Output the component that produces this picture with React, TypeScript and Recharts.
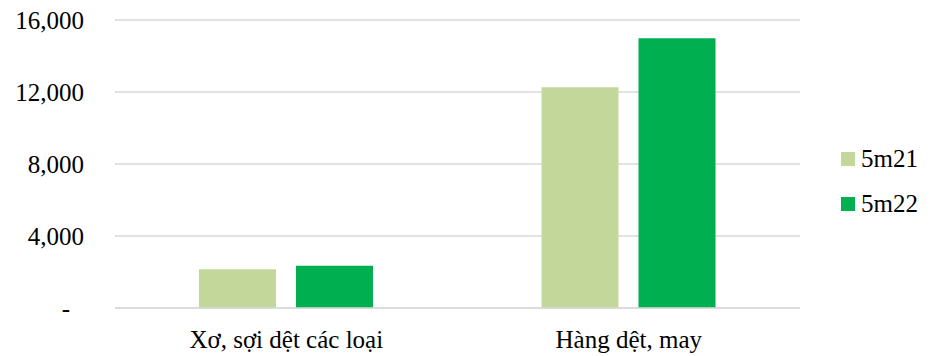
import { BarChart, Bar, XAxis, YAxis, CartesianGrid } from 'recharts'

const categories = ['Xơ, sợi dệt các loại', 'Hàng dệt, may']
const values5m21 = [2150, 12260]
const values5m22 = [2350, 14990]
const yTicks = [0, 4000, 8000, 12000, 16000]

const seriesNames = ['5m21', '5m22']
const colors = ['#C4D79B', '#00B050']

const data = categories.map((name, i) => ({
  name,
  '5m21': values5m21[i],
  '5m22': values5m22[i],
}))

const font = '"Times New Roman", "Liberation Serif", serif'

const YTick = ({ x, y, payload }: any) => {
  const v = payload.value
  return (
    <text x={v === 0 ? x - 14 : x} y={y} dy="0.35em" textAnchor="end" fontSize={25} style={{ fontFamily: font }} fill="#000">
      {v === 0 ? '-' : v.toLocaleString('en-US')}
    </text>
  )
}

const XTick = ({ x, y, payload }: any) => (
  <text x={x} y={y} dy={32} textAnchor="middle" fontSize={25} style={{ fontFamily: font }} fill="#000">
    {payload.value}
  </text>
)

export default function App() {
  return (
    <div style={{ position: 'absolute', left: 0, top: 0, width: 935, height: 356, background: '#fff' }}>
      <BarChart width={935} height={356} data={data} margin={{ top: 20, right: 135, left: 0, bottom: 0 }} barGap={20}>
        <CartesianGrid horizontal vertical={false} stroke="#d9d9d9" strokeWidth={1.5} />
        <XAxis dataKey="name" tick={<XTick />} tickLine={false} axisLine={{ stroke: '#d9d9d9', strokeWidth: 1.5 }} height={48} interval={0} />
        <YAxis domain={[0, 16000]} ticks={yTicks} tick={<YTick />} tickLine={false} axisLine={false} width={115} tickMargin={25} />
        <Bar dataKey="5m21" fill={colors[0]} barSize={77} isAnimationActive={false} />
        <Bar dataKey="5m22" fill={colors[1]} barSize={77} isAnimationActive={false} />
      </BarChart>
      {/* legend */}
      <div style={{ position: 'absolute', left: 841, top: 136, fontFamily: font, fontSize: 25, color: '#000' }}>
        {seriesNames.map((s, i) => (
          <div key={s} style={{ display: 'flex', alignItems: 'center', height: 45 }}>
            <div style={{ width: 14, height: 14, background: colors[i], marginRight: 6 }} />
            <span>{s}</span>
          </div>
        ))}
      </div>
    </div>
  )
}
